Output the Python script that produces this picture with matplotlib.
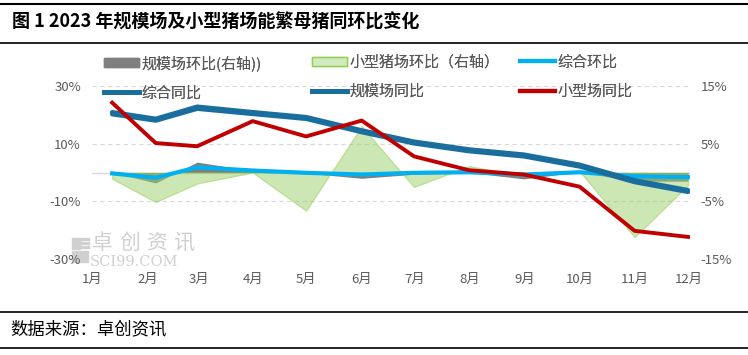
import matplotlib
matplotlib.use("Agg")
import matplotlib.pyplot as plt
from matplotlib.lines import Line2D
from matplotlib.patches import Patch, Rectangle

plt.rcParams['font.family'] = ['Noto Sans CJK SC', 'DejaVu Sans']

months = ['1月', '2月', '3月', '4月', '5月', '6月', '7月', '8月', '9月', '10月', '11月', '12月']
# positions on the (date-like) x axis, in month units
x_pos = [0.37, 1.17, 1.93, 2.95, 3.93, 4.95, 5.91, 6.92, 7.93, 8.95, 9.96, 10.94]
tick_pos = [0.0, 1.03, 1.96, 2.95, 3.93, 4.94, 5.93, 6.94, 7.95, 8.95, 9.96, 10.95]

# right axis (%)
scale_mom = [0.0, -1.8, 1.8, 0.3, -0.1, -1.0, -0.3, 0.0, -1.1, 0.1, -1.5, -1.5]
small_mom = [-1.1, -5.1, -1.9, 0.0, -6.6, 8.0, -2.5, 1.1, -0.5, 0.2, -11.2, -2.2]
# left axis (%)
total_mom = [-0.3, -1.8, 1.8, 0.7, -0.1, -0.7, -0.1, 0.1, -0.7, 0.1, -1.3, -1.6]
total_yoy = [20.2, 18.0, 22.1, 20.3, 18.6, 14.0, 10.1, 7.4, 5.6, 2.1, -3.3, -6.7]
scale_yoy = [20.9, 18.6, 22.8, 20.9, 19.2, 14.6, 10.7, 8.0, 6.2, 2.7, -2.7, -6.1]
small_yoy = [24.2, 10.2, 9.1, 17.8, 12.5, 18.0, 5.6, 0.8, -0.7, -4.9, -20.2, -22.3]

GRAY = '#7f7f7f'
GREEN_FILL = '#9BCF6A'
GREEN_EDGE = '#92D050'
LBLUE = '#00B0F0'
DBLUE = '#1A6E9E'
RED = '#C00000'
TXT = '#595959'
WM = '#d0d0d0'

fig = plt.figure(figsize=(7.48, 3.55), dpi=100)
ax = fig.add_axes([0.123, 0.270, 0.799, 0.488])   # areas, right-side ticks
ax2 = ax.twinx()                                   # lines, left-side ticks

ax.fill_between(x_pos, 0, scale_mom, color=GRAY, lw=0, zorder=2)
ax.fill_between(x_pos, 0, small_mom, facecolor=GREEN_FILL, alpha=0.5,
                edgecolor=GREEN_EDGE, lw=0.9, zorder=3)
ax.set_ylim(-15, 15)
ax.set_yticks([-15, -5, 5, 15])
ax.set_yticklabels(['-15%', '-5%', '5%', '15%'])
ax.yaxis.tick_right()
for y in [-15, -5, 5, 15]:
    ax.axhline(y, color='#d9d9d9', lw=0.8, ls=(0, (4, 3)), zorder=1)
ax.axhline(0, color='#d9d9d9', lw=1.0, zorder=1)

ax2.plot(x_pos, total_mom, color=LBLUE, lw=3, zorder=3)
ax2.plot(x_pos, total_yoy, color=DBLUE, lw=3.2, zorder=4, solid_capstyle='round')
ax2.plot(x_pos, scale_yoy, color=DBLUE, lw=3.2, zorder=4, solid_capstyle='round')
ax2.plot(x_pos, small_yoy, color=RED, lw=2.8, zorder=5)
ax2.set_ylim(-30, 30)
ax2.set_yticks([-30, -10, 10, 30])
ax2.set_yticklabels(['-30%', '-10%', '10%', '30%'])
ax2.yaxis.tick_left()

ax.set_xticks(tick_pos)
ax.set_xticklabels(months)

for a in (ax, ax2):
    for s in a.spines.values():
        s.set_visible(False)
    a.tick_params(length=0, labelsize=9.5, colors=TXT, pad=8)
    a.set_xlim(0, 10.97)
ax.tick_params(axis='x', pad=10)

# legend in three columns placed by hand
lg_kw = dict(frameon=False, loc='upper left', borderpad=0, borderaxespad=0,
             fontsize=10.8, labelcolor=TXT, handlelength=2.3, handleheight=0.55,
             handletextpad=0.2, labelspacing=1.0)
cols = [
    ([Patch(facecolor=GRAY, edgecolor=GRAY), Line2D([], [], color=DBLUE, lw=3.5)],
     ['规模场环比(右轴))', '综合同比'], 104),
    ([Patch(facecolor='#d3eabf', edgecolor=GREEN_EDGE), Line2D([], [], color=DBLUE, lw=3.5)],
     ['小型猪场环比（右轴）', '规模场同比'], 312),
    ([Line2D([], [], color=LBLUE, lw=3), Line2D([], [], color=RED, lw=3)],
     ['综合环比', '小型场同比'], 520),
]
for handles, labels, xpx in cols:
    leg = fig.legend(handles, labels, bbox_to_anchor=(xpx / 748, 1 - 55 / 355), **lg_kw)
    fig.add_artist(leg)

# watermark (logo blocks + text)
blocks = [(72, 238, 8, 11), (72, 251, 8, 11), (81, 251, 7, 11)]
blocks += [(81 + 3 * i, 238 + 4 * j, 2, 2) for i in range(3) for j in range(3)]
for (lx, ly, w, h) in blocks:
    fig.add_artist(Rectangle((lx / 748, 1 - (ly + h) / 355), w / 748, h / 355,
                             color=WM, transform=fig.transFigure, zorder=0))
for i, ch in enumerate('卓创资讯'):
    fig.text((92 + 27 * i) / 748, 1 - 243 / 355, ch, fontsize=15, color=WM, va='center')
fig.text(90 / 748, 1 - 262 / 355, 'SCI99.COM', fontsize=10.5, color=WM,
         family='DejaVu Serif', va='center')

# title and source with rules
fig.text(12 / 748, 1 - 22 / 355, '图 1 2023 年规模场及小型猪场能繁母猪同环比变化',
         fontsize=13, fontweight='bold', color='black', va='center')
fig.text(10 / 748, 1 - 329 / 355, '数据来源：卓创资讯', fontsize=12.5,
         color='black', va='center')
for ypx, lw in [(4, 1.5), (43, 1.2), (312, 1.2), (348, 1.2)]:
    fig.add_artist(Line2D([0, 1], [1 - ypx / 355] * 2, color='black', lw=lw,
                          transform=fig.transFigure))

fig.savefig('out.png', dpi=100)
